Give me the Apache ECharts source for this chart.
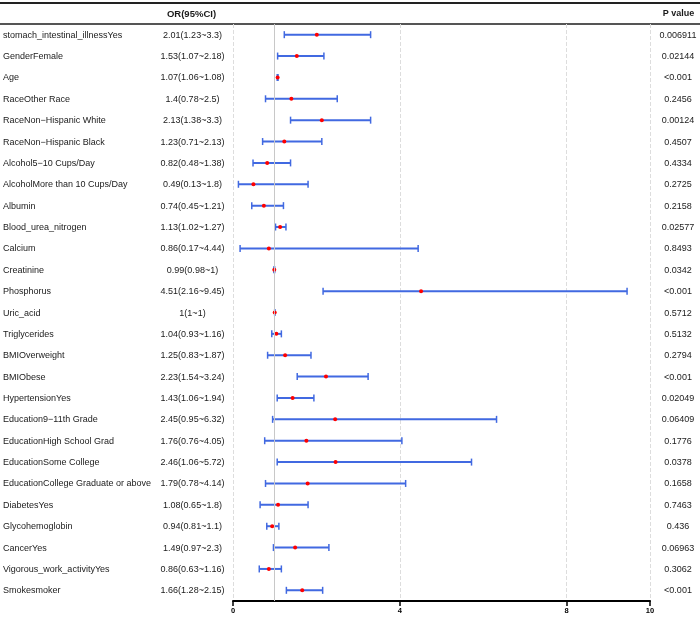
<!DOCTYPE html>
<html>
<head>
<meta charset="utf-8">
<script src="https://cdn.jsdelivr.net/npm/echarts@6/dist/echarts.min.js"></script>
<style>
  html, body { margin: 0; padding: 0; background: #fff; }
  #chart { width: 700px; height: 619px; }
</style>
</head>
<body>
<div id="chart"></div>
<script>
// 变量名
var names = [
  'stomach_intestinal_illnessYes', 'GenderFemale', 'Age', 'RaceOther Race',
  'RaceNon\u2212Hispanic White', 'RaceNon\u2212Hispanic Black', 'Alcohol5\u221210 Cups/Day',
  'AlcoholMore than 10 Cups/Day', 'Albumin', 'Blood_urea_nitrogen', 'Calcium',
  'Creatinine', 'Phosphorus', 'Uric_acid', 'Triglycerides', 'BMIOverweight',
  'BMIObese', 'HypertensionYes', 'Education9\u221211th Grade', 'EducationHigh School Grad',
  'EducationSome College', 'EducationCollege Graduate or above', 'DiabetesYes',
  'Glycohemoglobin', 'CancerYes', 'Vigorous_work_activityYes', 'Smokesmoker'
];
// OR 及 95%CI
var orVal = [2.01, 1.53, 1.07, 1.4, 2.13, 1.23, 0.82, 0.49, 0.74, 1.13, 0.86, 0.99, 4.51, 1,
  1.04, 1.25, 2.23, 1.43, 2.45, 1.76, 2.46, 1.79, 1.08, 0.94, 1.49, 0.86, 1.66];
var lower = [1.23, 1.07, 1.06, 0.78, 1.38, 0.71, 0.48, 0.13, 0.45, 1.02, 0.17, 0.98, 2.16, 1,
  0.93, 0.83, 1.54, 1.06, 0.95, 0.76, 1.06, 0.78, 0.65, 0.81, 0.97, 0.63, 1.28];
var upper = [3.3, 2.18, 1.08, 2.5, 3.3, 2.13, 1.38, 1.8, 1.21, 1.27, 4.44, 1, 9.45, 1,
  1.16, 1.87, 3.24, 1.94, 6.32, 4.05, 5.72, 4.14, 1.8, 1.1, 2.3, 1.16, 2.15];
// P 值
var pValues = ['0.006911', '0.02144', '<0.001', '0.2456', '0.00124', '0.4507', '0.4334',
  '0.2725', '0.2158', '0.02577', '0.8493', '0.0342', '<0.001', '0.5712', '0.5132', '0.2794',
  '<0.001', '0.02049', '0.06409', '0.1776', '0.0378', '0.1658', '0.7463', '0.436', '0.06963',
  '0.3062', '<0.001'];

var FONT = '"Liberation Sans", Arial, sans-serif';
var chart = echarts.init(document.getElementById('chart'));

var barData = names.map(function (n, i) {
  return [lower[i], i, upper[i], orVal[i]];
});
var textData = names.map(function (n, i) { return [0, i]; });

// 误差线
function renderBar(params, api) {
  var idx = api.value(1);
  var lo = api.coord([api.value(0), idx]);
  var hi = api.coord([api.value(2), idx]);
  var mid = api.coord([api.value(3), idx]);
  var y = lo[1];
  var cap = 3.5;
  var blue = '#4169E1';
  return {
    type: 'group',
    children: [
      { type: 'line', shape: { x1: lo[0], y1: y, x2: hi[0], y2: y }, style: { stroke: blue, lineWidth: 2 } },
      { type: 'line', shape: { x1: lo[0], y1: y - cap, x2: lo[0], y2: y + cap }, style: { stroke: blue, lineWidth: 1.5 } },
      { type: 'line', shape: { x1: hi[0], y1: y - cap, x2: hi[0], y2: y + cap }, style: { stroke: blue, lineWidth: 1.5 } },
      { type: 'circle', shape: { cx: mid[0], cy: y, r: 2 }, style: { fill: '#ff0000' } }
    ]
  };
}

// 左右两侧文字
function renderText(params, api) {
  var i = params.dataIndex;
  var y = Math.round(api.coord([0, api.value(1)])[1]) + 1;
  var base = { fontFamily: FONT, fill: '#1a1a1a', verticalAlign: 'middle', fontSize: 9 };
  return {
    type: 'group',
    children: [
      { type: 'text', style: Object.assign({ x: 3, y: y, text: names[i], align: 'left' }, base) },
      { type: 'text', style: Object.assign({ x: 192.5, y: y, align: 'center',
        text: orVal[i] + '(' + lower[i] + '~' + upper[i] + ')' }, base) },
      { type: 'text', style: Object.assign({ x: 678, y: y, text: pValues[i], align: 'center' }, base) }
    ]
  };
}

var option = {
  animation: false,
  grid: { left: 233, right: 50, top: 24, bottom: 18 },
  xAxis: {
    type: 'value',
    min: 0,
    max: 10,
    interval: 4,
    axisLine: { show: true, lineStyle: { color: '#000', width: 2 } },
    axisTick: { show: true, length: 5, lineStyle: { color: '#000', width: 1.5 } },
    axisLabel: { fontSize: 7.5, fontWeight: 'bold', color: '#000', fontFamily: FONT, margin: 6 },
    splitLine: { show: true, lineStyle: { color: '#dddddd', type: 'dashed', width: 1 } }
  },
  yAxis: {
    type: 'category',
    data: names,
    inverse: true,
    show: false
  },
  graphic: [
    { type: 'line', shape: { x1: 0, y1: 3, x2: 700, y2: 3 }, style: { stroke: '#222', lineWidth: 2 } },
    { type: 'line', shape: { x1: 0, y1: 24, x2: 700, y2: 24 }, style: { stroke: '#555', lineWidth: 2 } },
    { type: 'text', style: { x: 191.5, y: 14, text: 'OR(95%CI)', align: 'center', verticalAlign: 'middle',
      fontSize: 9.5, fontWeight: 'bold', fontFamily: FONT, fill: '#1a1a1a' } },
    { type: 'text', style: { x: 678.5, y: 14, text: 'P value', align: 'center', verticalAlign: 'middle',
      fontSize: 9, fontWeight: 'bold', fontFamily: FONT, fill: '#1a1a1a' } }
  ],
  series: [
    {
      type: 'custom',
      renderItem: renderBar,
      data: barData,
      encode: { x: [0, 2, 3], y: 1 },
      markLine: {
        silent: true,
        symbol: 'none',
        label: { show: false },
        lineStyle: { color: '#c8c8c8', type: 'solid', width: 1 },
        data: [{ xAxis: 1 }]
      },
      z: 3
    },
    {
      type: 'custom',
      renderItem: renderText,
      data: textData,
      encode: { x: 0, y: 1 },
      clip: false,
      silent: true
    }
  ]
};
chart.setOption(option);
</script>
</body>
</html>
